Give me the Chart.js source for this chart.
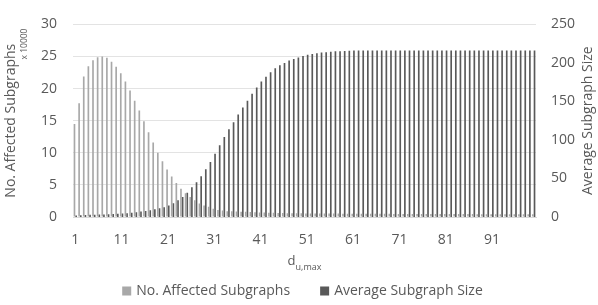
<!DOCTYPE html>
<html>
<head>
<meta charset="utf-8">
<script src="https://cdn.jsdelivr.net/npm/chart.js@4/dist/chart.umd.min.js"></script>
<style>
  html, body { margin: 0; padding: 0; background: #fff; }
  #wrap { width: 598px; height: 305px; }
</style>
</head>
<body>
<div id="wrap"><canvas id="chart" width="598" height="305"></canvas></div>
<script>
"use strict";
// d_u,max categories 1..100
const categories = [];
for (let i = 1; i <= 100; i++) categories.push(String(i));

// No. Affected Subgraphs (x 10000), left axis
const affected = [
  14.5, 17.7, 21.9, 23.5, 24.4, 24.9, 25.0, 24.8, 24.2, 23.4,
  22.4, 21.1, 19.7, 18.1, 16.6, 14.9, 13.2, 11.6, 10.0, 8.7,
  7.4, 6.3, 5.3, 4.4, 3.7, 3.1, 2.6, 2.1, 1.8, 1.6,
  1.3, 1.1, 1.0, 0.9, 0.88, 0.85, 0.82, 0.8, 0.78, 0.75,
  0.72, 0.7, 0.68, 0.66, 0.64, 0.62, 0.6, 0.59, 0.58, 0.57,
  0.56, 0.56, 0.55, 0.55, 0.54, 0.54, 0.53, 0.53, 0.52, 0.52,
  0.51, 0.51, 0.5, 0.5, 0.5, 0.5, 0.49, 0.49, 0.49, 0.48,
  0.48, 0.48, 0.47, 0.47, 0.47, 0.47, 0.46, 0.46, 0.46, 0.46,
  0.46, 0.45, 0.45, 0.45, 0.45, 0.45, 0.45, 0.44, 0.44, 0.44,
  0.44, 0.44, 0.44, 0.44, 0.43, 0.43, 0.43, 0.43, 0.43, 0.43
];

// Average Subgraph Size, right axis
const avgSize = [
  2.0, 2.4, 2.7, 2.9, 3.0, 3.1, 3.3, 3.5, 3.8, 4.1,
  4.5, 5.0, 5.6, 6.2, 7.0, 7.8, 8.8, 9.9, 11.2, 12.8,
  15.0, 18.0, 21.7, 26, 31.5, 38.5, 45, 53, 62, 71.5,
  82, 93, 104, 114, 123, 133, 142, 151, 160, 168,
  176, 182, 188, 193, 197, 200, 203, 205, 207, 209,
  210.5, 211.5, 212.5, 213.5, 214, 214.5, 215, 215.3, 215.6, 215.8,
  216, 216, 216, 216, 216, 216, 216, 216, 216, 216,
  216, 216, 216, 216, 216, 216, 216, 216, 216, 216,
  216, 216, 216, 216, 216, 216, 216, 216, 216, 216,
  216, 216, 216, 216, 216, 216, 216, 216, 216, 216
];

const seriesNames = ['No. Affected Subgraphs', 'Average Subgraph Size'];
const seriesColors = ['#a8a8a8', '#595959'];
const leftTitle = 'No. Affected Subgraphs';
const leftUnit = 'x 10000';
const rightTitle = 'Average Subgraph Size';

const textColor = '#595959';
const fontFamily = '"Open Sans", sans-serif';

// axis titles, unit note and legend drawn on the canvas
const annotations = {
  id: 'annotations',
  afterDraw(chart) {
    const ctx = chart.ctx;
    const a = chart.chartArea;
    const midY = (a.top + a.bottom) / 2;
    const midX = (a.left + a.right) / 2;
    ctx.save();
    ctx.fillStyle = textColor;
    ctx.textAlign = 'center';
    ctx.textBaseline = 'middle';

    ctx.save();
    ctx.font = '14px ' + fontFamily;
    ctx.translate(11, midY);
    ctx.rotate(-Math.PI / 2);
    ctx.fillText(leftTitle, 0, 0);
    ctx.restore();

    ctx.save();
    ctx.font = '8.5px ' + fontFamily;
    ctx.translate(25, 44);
    ctx.rotate(-Math.PI / 2);
    ctx.fillText(leftUnit, 0, 0);
    ctx.restore();

    ctx.save();
    ctx.font = '14px ' + fontFamily;
    ctx.translate(588, midY);
    ctx.rotate(-Math.PI / 2);
    ctx.fillText(rightTitle, 0, 0);
    ctx.restore();

    // x title: d with subscript u,max
    ctx.textAlign = 'left';
    ctx.textBaseline = 'alphabetic';
    ctx.font = '13px ' + fontFamily;
    const wd = ctx.measureText('d').width;
    ctx.font = '9px ' + fontFamily;
    const ws = ctx.measureText('u,max').width;
    const x0 = midX - (wd + ws) / 2;
    ctx.font = '13px ' + fontFamily;
    ctx.fillText('d', x0, 265);
    ctx.font = '9px ' + fontFamily;
    ctx.fillText('u,max', x0 + wd, 270);

    // legend
    ctx.font = '14px ' + fontFamily;
    ctx.textBaseline = 'middle';
    const box = 9, gap = 5, spacing = 30, ly = 291;
    const items = chart.data.datasets.map(d => ({
      text: d.label, color: d.backgroundColor, w: box + gap + ctx.measureText(d.label).width
    }));
    const total = items.reduce((s, it) => s + it.w, 0) + spacing * (items.length - 1);
    let x = midX - 2 - total / 2;
    items.forEach(it => {
      ctx.fillStyle = it.color;
      ctx.fillRect(x, ly - box / 2, box, box);
      ctx.fillStyle = textColor;
      ctx.fillText(it.text, x + box + gap, ly + 0.5);
      x += it.w + spacing;
    });
    ctx.restore();
  }
};

new Chart(document.getElementById('chart'), {
  type: 'bar',
  data: {
    labels: categories,
    datasets: [
      {
        label: seriesNames[0],
        data: affected,
        backgroundColor: seriesColors[0],
        yAxisID: 'y',
        categoryPercentage: 0.72,
        barPercentage: 1.0
      },
      {
        label: seriesNames[1],
        data: avgSize,
        backgroundColor: seriesColors[1],
        yAxisID: 'y2',
        categoryPercentage: 0.72,
        barPercentage: 1.0
      }
    ]
  },
  options: {
    responsive: false,
    animation: false,
    layout: { padding: { top: 12, left: 0, right: 0, bottom: 0 } },
    plugins: {
      legend: { display: false },
      tooltip: { enabled: false }
    },
    scales: {
      x: {
        grid: { display: false, drawTicks: false },
        border: { color: '#d9d9d9' },
        ticks: {
          autoSkip: false,
          maxRotation: 0,
          padding: 15,
          color: textColor,
          font: { family: fontFamily, size: 14 },
          callback: function (v, i) { return i % 10 === 0 ? categories[i] : ''; }
        },
        afterFit: function (s) { s.height = 88; }
      },
      y: {
        position: 'left',
        min: 0,
        max: 30,
        grid: { color: '#e3e3e3', drawTicks: false },
        border: { display: false },
        ticks: {
          stepSize: 5,
          padding: 16,
          color: textColor,
          font: { family: fontFamily, size: 14 }
        },
        afterFit: function (s) { s.width = 73; }
      },
      y2: {
        position: 'right',
        min: 0,
        max: 250,
        grid: { display: false, drawTicks: false },
        border: { display: false },
        ticks: {
          stepSize: 50,
          padding: 15,
          color: textColor,
          font: { family: fontFamily, size: 14 }
        },
        afterFit: function (s) { s.width = 62; }
      }
    }
  },
  plugins: [annotations]
});
</script>
</body>
</html>
